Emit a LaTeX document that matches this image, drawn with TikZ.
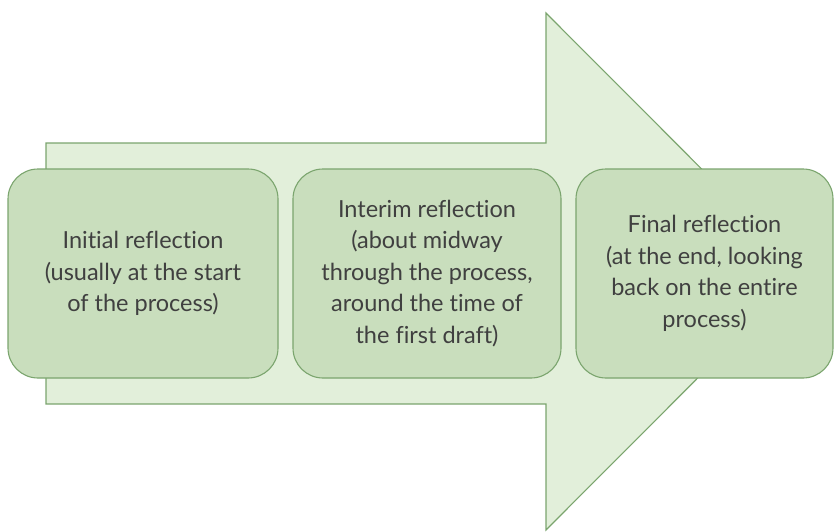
\documentclass[tikz,border=0pt]{standalone}
\usepackage{fontspec}
\setmainfont{Lato}[Ligatures=NoCommon]
\definecolor{bodyfill}{HTML}{E2EFDA}
\definecolor{boxfill}{HTML}{C9DEBD}
\definecolor{edge}{HTML}{7BA56E}
\definecolor{txt}{HTML}{404040}
\tikzset{
  stagebox/.style={draw=edge, line width=1.1pt, fill=boxfill, rounded corners=30pt,
    minimum height=209pt, inner sep=0pt, align=center, text=txt,
    font=\fontsize{23.5}{31.5}\selectfont},
  bigarrow/.style={draw=edge, line width=1.1pt, fill=bodyfill, line join=miter}
}
\begin{document}
\begin{tikzpicture}[x=1pt,y=-1pt]
\useasboundingbox (0,0) rectangle (836,531);
\coordinate (a1) at (46,143);
\coordinate (a2) at (546,143);
\coordinate (a3) at (546,13);
\coordinate (a4) at (804,271.5);
\coordinate (a5) at (546,530);
\coordinate (a6) at (546,404);
\coordinate (a7) at (46,404);
\path[bigarrow] (a1) -- (a2) -- (a3) -- (a4) -- (a5) -- (a6) -- (a7) -- cycle;
\node[stagebox, minimum width=270pt] (s1) at (143,273.5)
  {Initial reflection\\(usually at the start\\of the process)};
\node[stagebox, minimum width=268pt] (s2) at (427,273.5)
  {Interim reflection\\(about midway\\through the process,\\around the time of\\the first draft)};
\node[stagebox, minimum width=257pt] (s3) at (704.5,273.5)
  {Final reflection\\(at the end, looking\\back on the entire\\process)};
\end{tikzpicture}
\end{document}
